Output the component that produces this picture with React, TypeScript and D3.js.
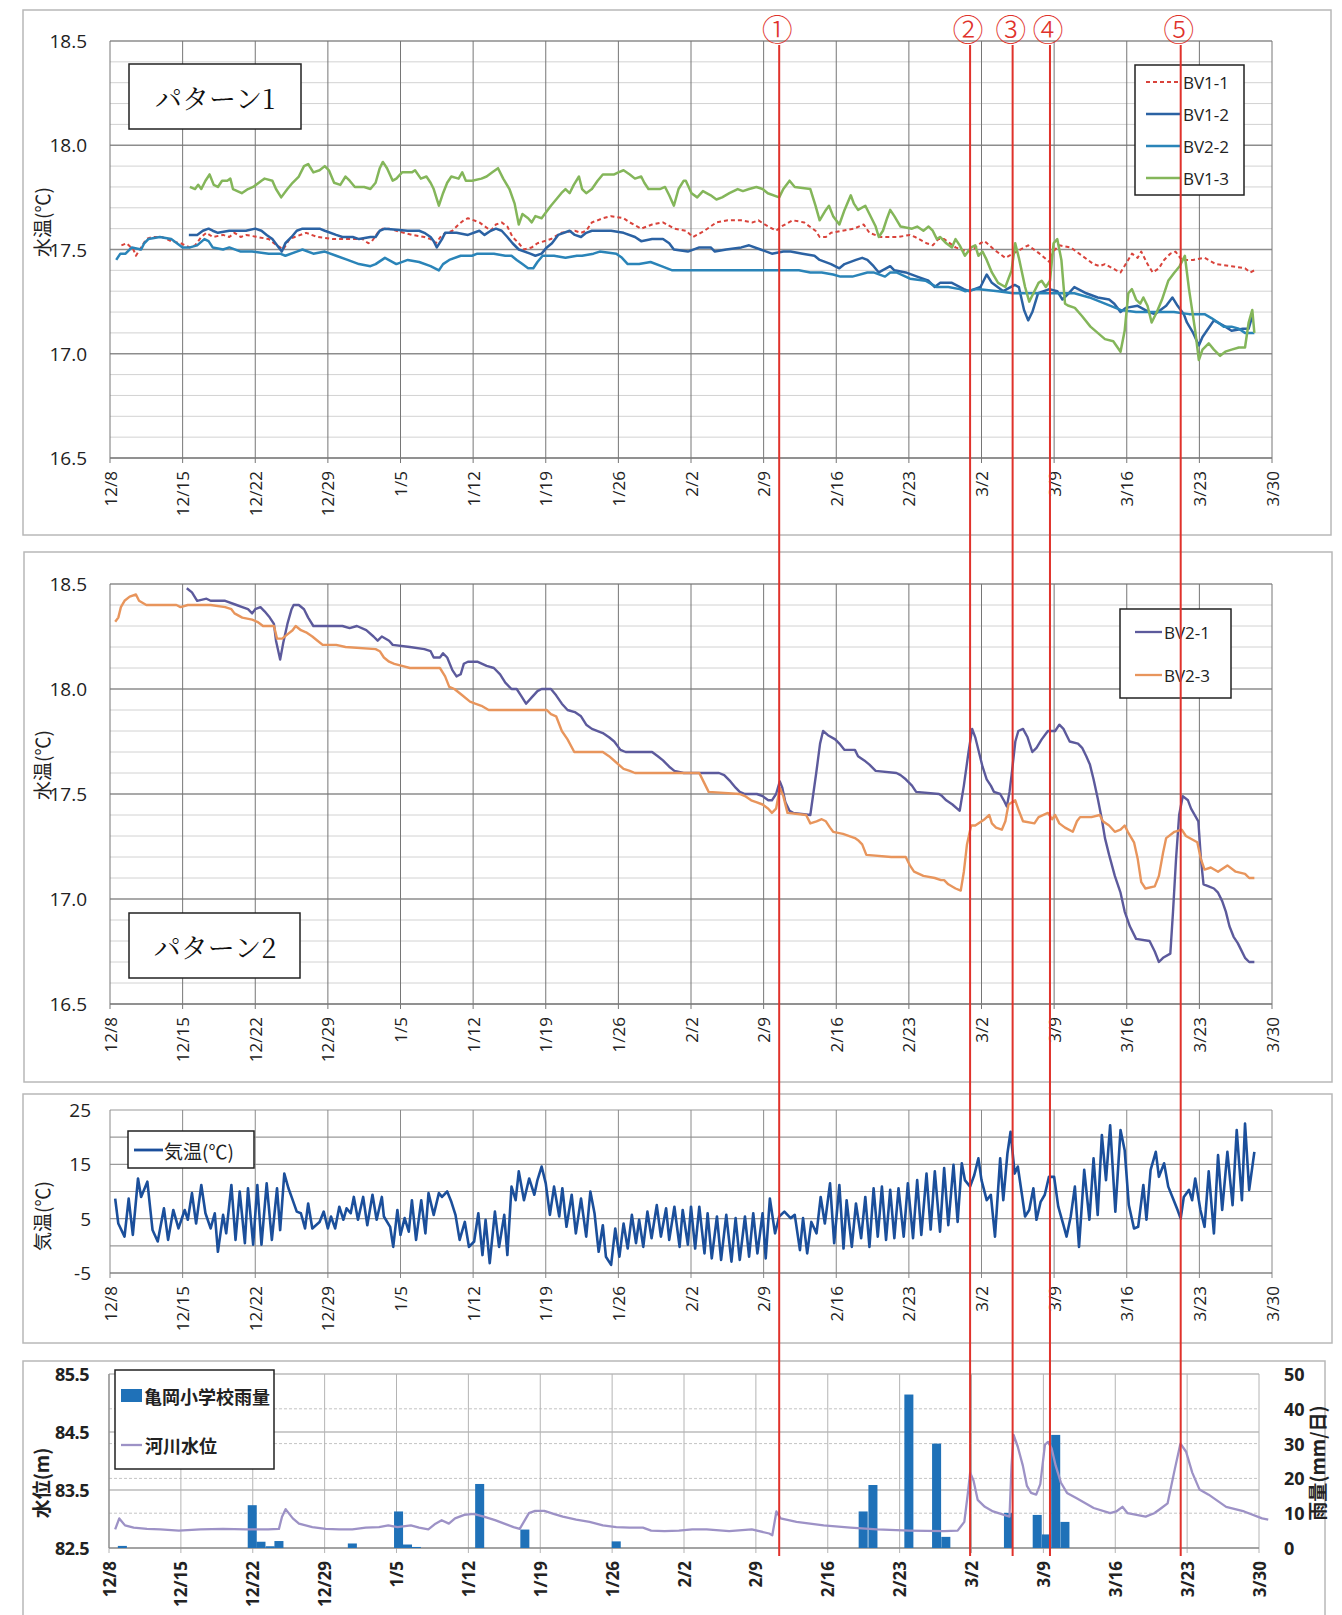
import React from "react";
import * as d3 from "d3";

type Pt = [number, number];

// x values are days counted from 12/8
const weekLabels = ["12/8", "12/15", "12/22", "12/29", "1/5", "1/12", "1/19", "1/26", "2/2", "2/9", "2/16", "2/23", "3/2", "3/9", "3/16", "3/23", "3/30"];
const weekDays = weekLabels.map((_, i) => i * 7);

const eventDays = [64.5, 82.9, 87.0, 90.6, 103.2];
const eventMarks = ["①", "②", "③", "④", "⑤"];

const p1Names = ["BV1-1", "BV1-2", "BV2-2", "BV1-3"];
const p2Names = ["BV2-1", "BV2-3"];

const bv11: Pt[] = [[1.1,17.52],[1.6,17.53],[2.25,17.50],[2.5,17.47],[3.0,17.51],[3.5,17.55],[4.1,17.56],[5.0,17.56],[5.9,17.54],[6.8,17.53],[7.7,17.51],[8.2,17.52],[8.8,17.56],[9.3,17.58],[9.9,17.56],[10.9,17.57],[11.5,17.56],[12.0,17.58],[12.6,17.56],[13.1,17.57],[14.2,17.56],[15.3,17.55],[15.8,17.53],[16.4,17.51],[16.7,17.50],[17.3,17.55],[17.8,17.56],[18.9,17.58],[20.0,17.56],[21.5,17.55],[24.35,17.55],[24.9,17.53],[25.25,17.54],[25.8,17.58],[26.3,17.60],[26.9,17.60],[27.6,17.59],[29.1,17.57],[30.3,17.56],[30.9,17.55],[31.4,17.53],[32.0,17.57],[33.0,17.59],[33.6,17.62],[34.1,17.64],[34.5,17.65],[35.6,17.63],[36.7,17.59],[37.2,17.62],[37.75,17.63],[38.3,17.61],[38.8,17.56],[39.4,17.53],[39.9,17.50],[40.65,17.51],[41.2,17.53],[42.5,17.55],[43.5,17.58],[44.8,17.59],[45.4,17.58],[45.9,17.59],[46.45,17.63],[47.0,17.64],[47.5,17.65],[48.3,17.66],[49.5,17.65],[50.1,17.63],[51.2,17.60],[52.25,17.62],[53.3,17.63],[54.4,17.60],[55.5,17.59],[56.2,17.56],[57.3,17.59],[58.45,17.63],[59.55,17.64],[60.85,17.64],[61.95,17.63],[62.5,17.64],[63.1,17.62],[64.2,17.59],[64.7,17.61],[65.8,17.64],[66.9,17.63],[68.0,17.59],[68.4,17.56],[69.0,17.56],[69.5,17.58],[70.6,17.59],[71.7,17.60],[72.65,17.62],[73.2,17.58],[74.3,17.56],[76.0,17.56],[77.1,17.57],[77.6,17.56],[78.7,17.53],[79.3,17.52],[79.85,17.55],[80.4,17.55],[81.5,17.51],[82.6,17.49],[83.2,17.50],[83.9,17.53],[84.3,17.54],[85.2,17.50],[86.3,17.46],[87.4,17.49],[88.5,17.52],[89.6,17.48],[90.55,17.44],[90.9,17.49],[91.5,17.52],[92.6,17.51],[93.7,17.47],[94.8,17.43],[95.4,17.42],[95.9,17.43],[97.0,17.40],[97.4,17.39],[97.9,17.43],[98.5,17.48],[99.05,17.46],[99.4,17.49],[100.0,17.43],[100.5,17.39],[101.1,17.41],[101.6,17.45],[102.2,17.48],[102.7,17.49],[103.3,17.45],[104.4,17.45],[105.5,17.46],[106.6,17.43],[108.1,17.42],[109.4,17.41],[109.9,17.39],[110.3,17.40]];

const bv12: Pt[] = [[7.6,17.57],[8.4,17.57],[8.95,17.59],[9.5,17.60],[9.9,17.59],[10.4,17.58],[11.5,17.59],[12.0,17.59],[12.6,17.59],[13.1,17.59],[14.0,17.60],[14.6,17.59],[15.1,17.57],[15.65,17.55],[16.1,17.52],[16.56,17.49],[16.9,17.53],[17.5,17.56],[18.0,17.59],[18.55,17.60],[20.2,17.60],[20.7,17.59],[21.8,17.57],[22.4,17.56],[23.4,17.56],[24.0,17.55],[25.1,17.56],[25.6,17.56],[26.0,17.59],[26.5,17.60],[28.7,17.59],[29.8,17.59],[30.3,17.58],[30.9,17.56],[31.2,17.54],[31.5,17.51],[32.0,17.55],[32.3,17.58],[33.4,17.58],[34.5,17.57],[35.6,17.59],[36.1,17.57],[36.7,17.59],[37.2,17.60],[37.75,17.59],[38.3,17.56],[38.8,17.53],[39.4,17.50],[40.5,17.48],[41.0,17.47],[41.6,17.48],[42.1,17.51],[42.6,17.53],[43.2,17.57],[44.3,17.59],[44.8,17.57],[45.4,17.56],[45.9,17.58],[46.45,17.59],[48.3,17.59],[49.5,17.58],[50.6,17.56],[51.2,17.54],[52.25,17.55],[53.3,17.55],[53.9,17.53],[54.35,17.50],[55.7,17.49],[56.8,17.51],[57.3,17.51],[57.9,17.51],[58.3,17.49],[59.4,17.50],[60.85,17.51],[61.6,17.52],[62.7,17.50],[63.8,17.48],[64.9,17.49],[65.6,17.49],[66.75,17.48],[67.9,17.47],[68.4,17.45],[69.5,17.43],[70.3,17.41],[70.8,17.43],[71.9,17.45],[72.5,17.46],[73.0,17.45],[73.6,17.42],[74.1,17.39],[75.2,17.42],[75.6,17.40],[76.7,17.39],[77.8,17.37],[78.9,17.35],[79.5,17.32],[80.0,17.34],[81.15,17.34],[82.3,17.31],[82.8,17.30],[83.9,17.32],[84.5,17.38],[85.0,17.34],[86.1,17.30],[87.2,17.33],[87.6,17.32],[88.1,17.21],[88.5,17.16],[88.9,17.20],[89.45,17.29],[90.55,17.31],[91.3,17.30],[91.8,17.26],[92.4,17.29],[92.95,17.32],[94.1,17.29],[95.2,17.27],[96.3,17.26],[96.8,17.24],[97.4,17.20],[97.9,17.22],[99.05,17.23],[100.15,17.20],[100.7,17.19],[101.8,17.23],[102.4,17.27],[102.9,17.23],[103.5,17.19],[103.8,17.15],[104.4,17.10],[104.95,17.04],[105.3,17.08],[106.4,17.16],[107.5,17.13],[108.1,17.11],[109.2,17.12],[109.75,17.12],[110.1,17.18]];

const bv22: Pt[] = [[0.6,17.45],[1.0,17.48],[1.5,17.48],[2.1,17.51],[3.0,17.50],[3.3,17.53],[3.7,17.55],[4.8,17.56],[5.9,17.55],[7.0,17.51],[7.7,17.51],[8.4,17.52],[9.1,17.55],[9.5,17.54],[9.9,17.51],[10.9,17.50],[11.5,17.51],[12.6,17.49],[13.7,17.49],[15.3,17.48],[16.4,17.48],[16.9,17.47],[18.0,17.49],[18.55,17.50],[19.6,17.48],[20.7,17.49],[21.8,17.47],[22.9,17.45],[24.0,17.43],[25.1,17.42],[25.6,17.43],[26.5,17.46],[27.6,17.43],[28.7,17.45],[29.8,17.44],[30.9,17.42],[31.7,17.40],[32.1,17.43],[32.7,17.45],[33.8,17.47],[34.9,17.47],[35.4,17.48],[37.0,17.48],[38.1,17.47],[38.7,17.47],[39.2,17.45],[39.75,17.43],[40.3,17.41],[40.8,17.41],[41.2,17.44],[41.7,17.47],[42.8,17.47],[43.9,17.46],[45.0,17.47],[45.5,17.47],[46.6,17.48],[47.2,17.49],[48.8,17.48],[49.35,17.46],[49.9,17.43],[51.0,17.43],[52.1,17.44],[53.15,17.42],[54.2,17.40],[55.7,17.40],[57.2,17.40],[58.6,17.40],[60.1,17.40],[62.3,17.40],[64.2,17.40],[66.4,17.40],[67.5,17.39],[68.6,17.39],[69.7,17.38],[70.4,17.37],[71.55,17.37],[73.0,17.39],[73.6,17.39],[74.7,17.37],[75.2,17.39],[75.8,17.39],[77.1,17.36],[78.6,17.35],[79.7,17.32],[80.8,17.32],[81.9,17.31],[82.4,17.30],[83.55,17.31],[85.6,17.30],[87.05,17.29],[89.3,17.29],[90.7,17.29],[92.95,17.29],[94.4,17.27],[95.9,17.24],[97.4,17.21],[98.9,17.20],[102.55,17.20],[104.0,17.19],[105.5,17.19],[106.2,17.17],[106.8,17.15],[107.35,17.13],[108.1,17.13],[108.8,17.12],[109.4,17.10],[110.3,17.10]];

const bv13: Pt[] = [[7.7,17.80],[8.2,17.79],[8.5,17.81],[8.8,17.79],[9.2,17.83],[9.6,17.86],[10.0,17.81],[10.4,17.80],[10.8,17.83],[11.3,17.83],[11.6,17.84],[11.85,17.79],[12.7,17.77],[13.3,17.79],[13.8,17.80],[14.6,17.83],[14.9,17.84],[15.65,17.83],[16.0,17.79],[16.5,17.75],[17.1,17.79],[17.6,17.82],[18.2,17.85],[18.7,17.90],[19.1,17.91],[19.6,17.87],[20.2,17.88],[20.7,17.90],[21.1,17.88],[21.6,17.82],[22.2,17.81],[22.7,17.85],[23.1,17.83],[23.6,17.80],[24.5,17.80],[25.1,17.79],[25.6,17.82],[26.0,17.89],[26.3,17.92],[26.7,17.89],[27.25,17.83],[27.6,17.84],[28.15,17.87],[29.1,17.87],[29.4,17.88],[29.96,17.84],[30.5,17.85],[30.9,17.82],[31.2,17.79],[31.7,17.71],[32.1,17.77],[32.5,17.82],[32.9,17.85],[33.6,17.84],[33.95,17.87],[34.3,17.83],[34.9,17.83],[35.8,17.84],[36.3,17.85],[36.85,17.87],[37.4,17.89],[37.9,17.84],[38.5,17.79],[39.0,17.72],[39.4,17.62],[39.75,17.67],[40.3,17.65],[40.65,17.63],[41.0,17.66],[41.6,17.65],[41.9,17.67],[42.5,17.71],[43.0,17.74],[43.5,17.77],[43.9,17.79],[44.3,17.77],[44.7,17.81],[45.2,17.85],[45.5,17.79],[45.9,17.77],[46.45,17.79],[47.0,17.83],[47.5,17.86],[48.6,17.86],[49.0,17.87],[49.5,17.88],[50.1,17.86],[50.6,17.84],[51.2,17.85],[51.5,17.82],[51.9,17.79],[53.0,17.79],[53.5,17.80],[53.9,17.76],[54.35,17.71],[54.8,17.79],[55.3,17.83],[55.5,17.83],[56.05,17.77],[56.6,17.75],[57.15,17.78],[57.9,17.76],[58.45,17.74],[59.0,17.75],[59.7,17.77],[60.5,17.79],[61.0,17.78],[61.6,17.79],[62.3,17.80],[62.9,17.79],[63.4,17.77],[64.5,17.75],[64.9,17.79],[65.5,17.83],[66.0,17.80],[67.5,17.79],[68.0,17.71],[68.4,17.64],[69.0,17.69],[69.3,17.71],[69.7,17.66],[70.3,17.62],[70.8,17.69],[71.4,17.76],[71.7,17.72],[72.1,17.69],[72.8,17.71],[73.2,17.67],[73.8,17.61],[74.1,17.56],[74.5,17.59],[74.9,17.65],[75.2,17.69],[75.6,17.66],[76.2,17.61],[77.3,17.60],[77.8,17.61],[78.4,17.59],[78.9,17.61],[79.3,17.59],[79.7,17.55],[80.0,17.56],[80.6,17.53],[81.15,17.51],[81.5,17.55],[81.9,17.52],[82.4,17.47],[83.0,17.51],[83.4,17.52],[83.7,17.47],[84.1,17.49],[84.5,17.45],[85.0,17.39],[85.6,17.34],[86.3,17.32],[86.9,17.40],[87.25,17.53],[87.6,17.46],[88.2,17.32],[88.6,17.25],[89.1,17.30],[89.5,17.34],[89.8,17.35],[90.2,17.32],[90.6,17.35],[90.95,17.53],[91.3,17.55],[91.7,17.45],[92.05,17.24],[92.4,17.23],[93.0,17.22],[93.7,17.18],[94.5,17.13],[95.2,17.10],[95.9,17.07],[96.7,17.06],[97.4,17.01],[97.8,17.11],[98.15,17.29],[98.5,17.31],[98.9,17.26],[99.3,17.24],[99.6,17.27],[100.0,17.23],[100.4,17.15],[100.9,17.20],[101.4,17.26],[102.0,17.35],[102.6,17.39],[103.1,17.42],[103.6,17.47],[104.0,17.31],[104.6,17.11],[104.95,16.97],[105.3,17.02],[105.9,17.05],[106.4,17.02],[107.0,16.99],[107.5,17.01],[108.1,17.02],[108.8,17.03],[109.4,17.03],[109.75,17.15],[110.1,17.21],[110.3,17.10]];

const bv21: Pt[] = [[7.4,18.48],[7.9,18.46],[8.4,18.42],[9.3,18.43],[9.7,18.42],[11.1,18.42],[12.2,18.40],[12.75,18.39],[13.3,18.38],[13.7,18.36],[14.0,18.38],[14.5,18.39],[14.9,18.37],[15.4,18.34],[15.8,18.31],[16.0,18.23],[16.4,18.14],[16.7,18.22],[17.1,18.31],[17.5,18.38],[17.7,18.40],[18.2,18.40],[18.7,18.38],[19.1,18.34],[19.6,18.30],[22.4,18.30],[23.1,18.29],[23.8,18.30],[24.7,18.28],[25.4,18.25],[25.8,18.23],[26.2,18.25],[26.9,18.23],[27.25,18.21],[28.9,18.20],[30.3,18.19],[30.9,18.18],[31.2,18.15],[31.8,18.15],[32.1,18.17],[32.5,18.15],[33.0,18.09],[33.4,18.06],[33.8,18.07],[34.1,18.12],[34.5,18.13],[35.4,18.13],[36.3,18.11],[37.0,18.10],[37.6,18.07],[38.1,18.03],[38.7,18.00],[39.2,18.00],[39.6,17.97],[40.1,17.93],[40.65,17.96],[41.2,17.99],[41.6,18.00],[42.5,18.00],[43.0,17.97],[43.55,17.93],[44.1,17.90],[44.8,17.89],[45.4,17.87],[45.9,17.83],[46.45,17.81],[47.5,17.79],[48.1,17.77],[48.6,17.75],[49.2,17.71],[49.7,17.70],[52.25,17.70],[52.8,17.68],[53.3,17.66],[53.9,17.63],[54.4,17.61],[55.3,17.60],[58.7,17.60],[59.2,17.59],[59.8,17.56],[60.3,17.53],[60.7,17.51],[61.2,17.50],[62.35,17.50],[62.9,17.49],[63.45,17.47],[63.8,17.47],[64.2,17.50],[64.56,17.56],[64.8,17.53],[65.1,17.46],[65.5,17.42],[65.85,17.41],[67.5,17.40],[68.07,17.60],[68.44,17.74],[68.73,17.80],[69.2,17.78],[69.9,17.76],[70.3,17.74],[70.8,17.71],[71.8,17.71],[72.1,17.68],[72.7,17.66],[73.2,17.64],[73.8,17.61],[75.8,17.60],[76.2,17.59],[76.7,17.57],[77.3,17.54],[77.7,17.51],[79.9,17.50],[80.2,17.49],[80.6,17.47],[81.2,17.45],[81.9,17.42],[82.3,17.54],[82.75,17.70],[83.1,17.81],[83.4,17.77],[83.75,17.70],[84.1,17.63],[84.5,17.57],[84.9,17.54],[85.2,17.51],[85.8,17.50],[86.15,17.47],[86.44,17.44],[86.7,17.51],[86.9,17.59],[87.26,17.75],[87.55,17.80],[88.0,17.81],[88.44,17.77],[88.9,17.70],[89.3,17.72],[89.8,17.76],[90.4,17.80],[91.1,17.80],[91.5,17.83],[91.9,17.81],[92.2,17.78],[92.5,17.75],[93.3,17.74],[93.7,17.72],[94.1,17.68],[94.45,17.64],[94.8,17.57],[95.2,17.48],[95.6,17.38],[95.9,17.29],[96.3,17.21],[96.85,17.11],[97.4,17.03],[97.8,16.94],[98.3,16.87],[98.9,16.81],[100.2,16.80],[100.7,16.75],[101.1,16.70],[101.5,16.72],[102.2,16.74],[102.46,16.94],[102.75,17.19],[103.05,17.40],[103.4,17.49],[103.9,17.47],[104.2,17.43],[104.9,17.37],[105.15,17.19],[105.4,17.07],[105.9,17.06],[106.4,17.05],[106.8,17.03],[107.2,16.99],[107.55,16.94],[107.9,16.87],[108.3,16.82],[108.7,16.79],[109.0,16.76],[109.4,16.72],[109.8,16.70],[110.3,16.70]];

const bv23: Pt[] = [[0.5,18.32],[0.8,18.34],[1.05,18.39],[1.4,18.42],[1.9,18.44],[2.5,18.45],[2.8,18.42],[3.5,18.40],[6.4,18.40],[6.8,18.39],[7.5,18.40],[9.7,18.40],[11.1,18.39],[11.7,18.38],[12.0,18.36],[12.75,18.34],[13.7,18.33],[14.2,18.32],[14.75,18.30],[15.8,18.30],[16.1,18.24],[16.6,18.24],[17.1,18.26],[17.6,18.28],[17.9,18.30],[18.4,18.28],[18.9,18.27],[19.5,18.25],[20.0,18.23],[20.5,18.21],[21.8,18.21],[22.7,18.20],[25.6,18.19],[26.0,18.18],[26.4,18.15],[26.9,18.13],[27.4,18.12],[28.15,18.11],[28.9,18.10],[31.8,18.10],[32.3,18.06],[32.7,18.01],[33.2,18.00],[33.95,17.97],[34.7,17.94],[35.2,17.93],[35.8,17.92],[36.5,17.90],[42.1,17.90],[42.5,17.88],[43.0,17.87],[43.55,17.80],[44.1,17.76],[44.75,17.70],[47.5,17.70],[48.1,17.68],[48.8,17.65],[49.5,17.62],[50.1,17.61],[50.6,17.60],[56.8,17.60],[57.2,17.56],[57.7,17.51],[60.7,17.50],[61.2,17.49],[61.8,17.47],[62.35,17.46],[62.9,17.45],[63.45,17.43],[63.8,17.41],[64.2,17.43],[64.56,17.53],[64.9,17.49],[65.3,17.41],[67.1,17.40],[67.5,17.36],[68.1,17.37],[68.6,17.38],[69.0,17.37],[69.4,17.34],[69.7,17.32],[70.65,17.31],[71.8,17.29],[72.1,17.28],[72.5,17.26],[72.9,17.21],[75.3,17.20],[76.7,17.20],[77.1,17.16],[77.5,17.13],[78.4,17.11],[79.5,17.10],[80.1,17.09],[80.4,17.09],[80.8,17.07],[81.5,17.05],[82.0,17.04],[82.3,17.13],[82.6,17.26],[83.0,17.35],[83.4,17.35],[84.3,17.38],[84.75,17.40],[85.0,17.36],[85.4,17.34],[85.96,17.33],[86.3,17.37],[86.6,17.45],[87.25,17.47],[87.6,17.42],[88.0,17.37],[89.1,17.36],[89.5,17.39],[90.4,17.41],[90.8,17.38],[91.1,17.40],[91.5,17.36],[92.05,17.34],[92.8,17.32],[93.2,17.37],[93.5,17.39],[94.6,17.39],[95.4,17.40],[95.7,17.37],[96.3,17.35],[96.85,17.32],[97.4,17.33],[97.8,17.35],[98.1,17.32],[98.7,17.27],[99.06,17.19],[99.4,17.08],[99.8,17.05],[100.7,17.06],[101.1,17.11],[101.5,17.22],[101.8,17.29],[102.6,17.32],[103.3,17.33],[103.7,17.30],[104.8,17.27],[105.15,17.19],[105.5,17.14],[106.1,17.15],[106.8,17.13],[107.7,17.16],[108.5,17.13],[109.4,17.12],[109.8,17.10],[110.3,17.10]];

const airTemp: Pt[] = [[0.5,8.7],[0.8,4.1],[1.4,1.7],[1.8,8.7],[2.2,2.0],[2.7,12.4],[3.0,9.0],[3.6,11.8],[4.1,2.9],[4.6,0.8],[5.2,6.9],[5.6,1.1],[6.1,6.6],[6.6,3.2],[7.2,6.6],[7.5,4.8],[7.9,9.7],[8.3,4.1],[8.8,11.2],[9.2,6.0],[9.7,3.2],[10.1,6.0],[10.4,-1.1],[10.9,5.7],[11.2,2.3],[11.7,11.2],[12.1,1.1],[12.5,10.0],[13.0,0.5],[13.3,10.6],[13.8,0.2],[14.2,11.2],[14.6,0.2],[15.1,11.5],[15.6,1.1],[16.1,10.6],[16.4,2.9],[16.8,13.3],[17.2,10.6],[17.5,9.0],[18.0,6.3],[18.4,6.0],[18.8,3.2],[19.1,7.8],[19.5,3.2],[20.2,4.4],[20.6,6.3],[21.0,3.2],[21.3,5.4],[21.7,3.2],[22.1,7.2],[22.5,4.8],[22.8,6.9],[23.2,6.0],[23.5,9.0],[23.9,4.8],[24.4,9.0],[24.8,3.8],[25.3,9.4],[25.7,4.8],[26.2,9.0],[26.4,5.4],[27.0,3.5],[27.3,-0.2],[27.7,6.6],[28.0,2.0],[28.4,5.1],[28.8,2.6],[29.1,8.4],[29.5,1.1],[30.0,8.4],[30.4,2.3],[30.7,9.7],[31.2,5.7],[31.7,9.7],[32.0,9.0],[32.5,10.0],[32.9,8.1],[33.3,5.7],[33.7,1.1],[34.2,4.4],[34.6,-0.2],[35.1,0.8],[35.5,6.0],[35.9,-1.7],[36.2,4.8],[36.6,-3.2],[37.1,6.3],[37.5,-0.2],[38.0,5.7],[38.3,-1.7],[38.7,10.9],[39.1,8.4],[39.4,13.7],[39.9,8.4],[40.4,12.4],[40.9,9.4],[41.2,12.1],[41.6,14.6],[42.0,11.5],[42.4,5.7],[42.8,10.9],[43.3,5.4],[43.6,10.6],[44.0,3.5],[44.5,9.4],[44.9,2.3],[45.4,8.7],[45.9,1.7],[46.3,10.0],[46.7,6.0],[47.1,-1.1],[47.5,3.8],[47.8,-2.0],[48.3,-3.5],[48.7,3.2],[49.1,-2.0],[49.5,4.1],[49.9,-0.5],[50.3,5.7],[50.7,0.5],[51.0,4.8],[51.4,-0.2],[51.8,6.3],[52.2,1.4],[52.7,7.5],[53.1,1.7],[53.6,6.9],[53.9,1.1],[54.4,7.2],[54.9,-0.2],[55.2,6.6],[55.7,0.2],[56.0,7.2],[56.4,-0.5],[56.8,7.2],[57.3,-1.4],[57.6,6.0],[58.0,-2.3],[58.5,5.4],[58.9,-2.6],[59.4,5.7],[59.9,-2.9],[60.3,5.1],[60.7,-2.6],[61.2,5.4],[61.6,-2.0],[62.0,6.0],[62.4,-1.4],[62.9,6.0],[63.2,-2.3],[63.6,8.7],[64.1,2.3],[64.5,5.4],[65.0,6.3],[65.6,5.1],[66.0,5.7],[66.5,-0.8],[66.8,5.1],[67.2,-1.4],[67.6,4.4],[68.1,2.3],[68.5,9.0],[68.9,4.1],[69.4,11.5],[69.8,0.5],[70.3,11.2],[70.7,-0.5],[71.0,8.4],[71.5,-0.2],[71.9,7.8],[72.4,1.4],[72.8,9.0],[73.2,-0.2],[73.6,10.6],[74.0,1.7],[74.4,10.9],[74.8,1.1],[75.2,10.3],[75.6,1.4],[76.0,10.6],[76.5,1.7],[76.9,11.5],[77.4,1.4],[77.8,12.1],[78.2,2.0],[78.7,13.3],[79.1,3.0],[79.5,13.7],[80.0,2.6],[80.4,14.3],[80.8,3.8],[81.3,14.9],[81.7,4.4],[82.1,15.2],[82.4,12.1],[82.9,10.9],[83.3,13.0],[83.7,16.1],[84.0,12.1],[84.5,8.4],[84.9,9.4],[85.3,1.7],[85.8,16.1],[86.1,8.4],[86.5,17.0],[86.8,21.0],[87.2,13.3],[87.5,14.6],[87.9,9.4],[88.2,5.4],[88.6,6.6],[89.0,10.6],[89.3,4.8],[89.7,8.1],[90.1,9.4],[90.5,12.7],[91.0,12.7],[91.4,7.2],[91.9,3.8],[92.2,1.7],[92.6,5.4],[93.0,10.9],[93.4,-0.2],[93.9,14.0],[94.4,4.8],[94.8,16.1],[95.2,5.7],[95.6,20.4],[96.0,12.1],[96.4,22.2],[96.9,6.3],[97.4,21.3],[97.8,17.6],[98.2,7.5],[98.7,3.2],[99.1,3.5],[99.6,11.2],[99.9,4.8],[100.3,14.0],[100.8,17.3],[101.1,12.7],[101.6,15.2],[102.0,10.9],[102.4,9.0],[102.9,6.6],[103.2,5.0],[103.5,9.0],[104.0,10.3],[104.3,8.4],[104.6,12.4],[105.1,6.6],[105.5,3.5],[105.9,13.7],[106.4,2.3],[106.8,16.7],[107.2,6.6],[107.7,17.3],[108.2,7.5],[108.6,21.3],[109.1,8.4],[109.4,22.5],[109.8,10.3],[110.3,17.3]];

const rainDays = [1.3, 13.95, 14.8, 15.7, 16.55, 23.7, 28.2, 29.07, 29.94, 36.1, 40.5, 49.4, 73.45, 74.4, 77.9, 80.6, 81.5, 87.6, 90.4, 91.3, 92.2, 93.1];
const rainMm = [0.6, 12.3, 1.8, 0.5, 2.0, 1.3, 10.5, 1.0, 0.3, 18.4, 5.3, 1.9, 10.5, 18.1, 44.1, 30.0, 3.2, 10.1, 9.5, 3.9, 32.5, 7.5];

const riverLevel: Pt[] = [[0.6,82.82],[1.0,83.01],[1.56,82.89],[2.4,82.85],[3.7,82.83],[5.0,82.82],[6.8,82.80],[8.9,82.82],[11.1,82.83],[13.3,82.82],[15.5,82.82],[16.55,82.83],[16.85,83.04],[17.2,83.17],[17.9,83.01],[18.5,82.92],[19.8,82.86],[21.1,82.83],[22.4,82.82],[23.7,82.82],[25.0,82.85],[26.3,82.86],[27.2,82.89],[28.1,82.86],[29.4,82.89],[30.2,82.85],[31.1,82.82],[31.8,82.92],[32.4,82.98],[33.1,82.92],[33.7,83.01],[34.6,83.07],[35.5,83.09],[36.5,83.04],[37.6,82.98],[38.5,82.92],[39.4,82.86],[40.0,82.83],[40.5,82.98],[40.9,83.10],[41.5,83.14],[42.4,83.14],[43.3,83.09],[44.2,83.04],[45.5,82.99],[46.8,82.95],[48.1,82.89],[49.4,82.86],[50.7,82.85],[52.0,82.85],[52.8,82.80],[54.1,82.79],[55.5,82.80],[56.8,82.82],[58.2,82.82],[60.4,82.79],[62.6,82.82],[64.3,82.75],[64.6,82.72],[65.0,83.13],[65.4,83.01],[66.96,82.95],[69.6,82.89],[72.2,82.85],[74.8,82.82],[77.9,82.80],[81.3,82.79],[82.65,82.80],[83.3,82.95],[83.65,83.45],[83.87,83.80],[84.2,83.66],[84.6,83.33],[85.3,83.21],[86.1,83.13],[87.7,83.04],[87.9,83.92],[88.1,84.45],[88.5,84.25],[89.0,83.92],[89.4,83.57],[89.8,83.45],[90.3,83.42],[90.7,83.60],[91.15,84.28],[91.45,84.33],[91.8,84.22],[92.2,83.92],[92.7,83.63],[93.3,83.45],[94.2,83.36],[95.9,83.19],[97.5,83.10],[98.1,83.13],[98.7,83.21],[99.2,83.10],[100.96,83.04],[101.8,83.10],[102.5,83.19],[103.1,83.27],[103.8,83.86],[104.35,84.30],[104.9,84.16],[105.5,83.80],[106.2,83.51],[107.1,83.42],[108.8,83.21],[110.55,83.13],[112.3,83.01],[112.9,82.99]];

const SANS = "'Open Sans', 'Noto Sans', sans-serif";
const CJK = "'Noto Sans CJK JP', 'Noto Sans', sans-serif";
const SERIF_JP = "'Noto Serif CJK JP', 'Noto Sans CJK JP', serif";
const RED = "#e0322b";

const xTop = d3.scaleLinear().domain([0, 112]).range([110, 1272]);
const xBot = d3.scaleLinear().domain([0, 112]).range([109, 1259]);
const y1 = d3.scaleLinear().domain([16.5, 18.5]).range([458, 41]);
const y2 = d3.scaleLinear().domain([16.5, 18.5]).range([1004, 584]);
const y3 = d3.scaleLinear().domain([-5, 25]).range([1273, 1110]);
const y4 = d3.scaleLinear().domain([82.5, 85.5]).range([1548, 1374]);
const y4r = d3.scaleLinear().domain([0, 50]).range([1548, 1374]);

const tenths = d3.range(0, 21).map((i) => 16.5 + i * 0.1);

function WeekAxis({ x, top, bottom, gridColor, bold }: { x: d3.ScaleLinear<number, number>; top: number; bottom: number; gridColor: string; bold?: boolean }) {
  return (
    <g>
      {weekDays.map((d) => (
        <line key={"g" + d} x1={x(d)} x2={x(d)} y1={top} y2={bottom + 5} stroke={gridColor} strokeWidth={1} />
      ))}
      <line x1={x(0)} x2={x(112)} y1={bottom} y2={bottom} stroke="#7a7a7a" strokeWidth={1.2} />
      {weekLabels.map((lab, i) => (
        <text key={lab} transform={`translate(${x(weekDays[i])},${bottom + 13}) rotate(-90)`} textAnchor="end" dominantBaseline="central" fontFamily={SANS} fontSize={17} fontWeight={bold ? 700 : 400} fill="#222">
          {lab}
        </text>
      ))}
    </g>
  );
}

function TempGrid({ y }: { y: d3.ScaleLinear<number, number> }) {
  return (
    <g>
      {tenths.map((v, i) => (
        <line key={i} x1={xTop(0)} x2={xTop(112)} y1={y(v)} y2={y(v)} stroke={i % 5 === 0 ? "#8d8d8d" : "#d2d2d2"} strokeWidth={i % 5 === 0 ? 1.3 : 1} />
      ))}
      {tenths.filter((_, i) => i % 5 === 0).map((v) => (
        <text key={v} x={87} y={y(v)} textAnchor="end" dominantBaseline="central" fontFamily={SANS} fontSize={19} fill="#222">
          {v.toFixed(1)}
        </text>
      ))}
    </g>
  );
}

function VTitle({ x, y, text, bold }: { x: number; y: number; text: string; bold?: boolean }) {
  return (
    <text transform={`translate(${x},${y}) rotate(-90)`} textAnchor="middle" dominantBaseline="central" fontFamily={CJK} fontSize={19} fontWeight={bold ? 700 : 400} fill="#222">
      {text}
    </text>
  );
}

export default function App() {
  const line1 = d3.line<Pt>().x((d) => xTop(d[0])).y((d) => y1(d[1]));
  const line2 = d3.line<Pt>().x((d) => xTop(d[0])).y((d) => y2(d[1]));
  const line3 = d3.line<Pt>().x((d) => xTop(d[0])).y((d) => y3(d[1]));
  const line4 = d3.line<Pt>().x((d) => xBot(d[0])).y((d) => y4(d[1]));

  const p1Data = [bv11, bv12, bv22, bv13];
  const p1Colors = ["#d9433b", "#2b62a3", "#2a84b8", "#84b65a"];
  const p2Data = [bv21, bv23];
  const p2Colors = ["#5c5a9c", "#e8955c"];
  const barW = xBot(0.88) - xBot(0);

  return (
    <svg width={1342} height={1615} style={{ position: "absolute", left: 0, top: 0, background: "#fff" }}>
      {/* panel frames */}
      <rect x={23} y={10} width={1308} height={525} fill="#fff" stroke="#b8b8b8" strokeWidth={1.5} />
      <rect x={24} y={552} width={1308} height={530} fill="#fff" stroke="#b8b8b8" strokeWidth={1.5} />
      <rect x={23} y={1094} width={1309} height={249} fill="#fff" stroke="#b8b8b8" strokeWidth={1.5} />
      <rect x={23} y={1361} width={1302} height={280} fill="#fff" stroke="#b8b8b8" strokeWidth={1.5} />

      {/* ---------- panel 1 ---------- */}
      <TempGrid y={y1} />
      <WeekAxis x={xTop} top={41} bottom={458} gridColor="#767676" />
      <VTitle x={41} y={222} text="水温(℃)" />
      <rect x={129} y={64} width={172} height={65} fill="#fff" stroke="#222" strokeWidth={1.5} />
      <text x={215} y={97} textAnchor="middle" dominantBaseline="central" fontFamily={SERIF_JP} fontSize={27} fill="#111">パターン1</text>
      {p1Data.map((s, i) => (
        <path key={i} d={line1(s) ?? ""} fill="none" stroke={p1Colors[i]} strokeWidth={i === 0 ? 2 : 2.5} strokeDasharray={i === 0 ? "4,3" : undefined} strokeLinejoin="round" />
      ))}
      <rect x={1135} y={65} width={109} height={130} fill="#fff" stroke="#222" strokeWidth={1.5} />
      {p1Names.map((n, i) => (
        <g key={n}>
          <line x1={1146} x2={1180} y1={82 + i * 32} y2={82 + i * 32} stroke={p1Colors[i]} strokeWidth={i === 0 ? 2 : 2.6} strokeDasharray={i === 0 ? "4,3" : undefined} />
          <text x={1183} y={82 + i * 32} dominantBaseline="central" fontFamily={SANS} fontSize={17} fill="#222">{n}</text>
        </g>
      ))}

      {/* ---------- panel 2 ---------- */}
      <TempGrid y={y2} />
      <WeekAxis x={xTop} top={584} bottom={1004} gridColor="#767676" />
      <VTitle x={41} y={765} text="水温(℃)" />
      {p2Data.map((s, i) => (
        <path key={i} d={line2(s) ?? ""} fill="none" stroke={p2Colors[i]} strokeWidth={2.4} strokeLinejoin="round" />
      ))}
      <rect x={129} y={913} width={171} height={65} fill="#fff" stroke="#222" strokeWidth={1.5} />
      <text x={215} y={946} textAnchor="middle" dominantBaseline="central" fontFamily={SERIF_JP} fontSize={27} fill="#111">パターン2</text>
      <rect x={1120} y={609} width={111} height={89} fill="#fff" stroke="#222" strokeWidth={1.5} />
      {p2Names.map((n, i) => (
        <g key={n}>
          <line x1={1135} x2={1162} y1={632 + i * 43} y2={632 + i * 43} stroke={p2Colors[i]} strokeWidth={2.3} />
          <text x={1164} y={632 + i * 43} dominantBaseline="central" fontFamily={SANS} fontSize={17} fill="#222">{n}</text>
        </g>
      ))}

      {/* ---------- panel 3 ---------- */}
      {d3.range(-5, 26, 5).map((v) => (
        <line key={v} x1={xTop(0)} x2={xTop(112)} y1={y3(v)} y2={y3(v)} stroke="#9a9a9a" strokeWidth={1.2} />
      ))}
      {[25, 15, 5, -5].map((v) => (
        <text key={v} x={91} y={y3(v)} textAnchor="end" dominantBaseline="central" fontFamily={SANS} fontSize={19} fill="#222">{v}</text>
      ))}
      <WeekAxis x={xTop} top={1110} bottom={1273} gridColor="#8a8a8a" />
      <VTitle x={41} y={1216} text="気温(℃)" />
      <path d={line3(airTemp) ?? ""} fill="none" stroke="#1b4f9b" strokeWidth={2.6} strokeLinejoin="round" />
      <rect x={128} y={1131} width={126} height={37} fill="#fff" stroke="#222" strokeWidth={1.5} />
      <line x1={134} x2={163} y1={1150} y2={1150} stroke="#1b4f9b" strokeWidth={2.8} />
      <text x={164} y={1150} dominantBaseline="central" fontFamily={CJK} fontSize={19} fill="#222">気温(℃)</text>

      {/* ---------- panel 4 ---------- */}
      {[10, 20, 30, 40].map((v) => (
        <line key={v} x1={xBot(0)} x2={xBot(112)} y1={y4r(v)} y2={y4r(v)} stroke="#c4c4c4" strokeWidth={1} strokeDasharray="3,2" />
      ))}
      {[82.5, 83.5, 84.5, 85.5].map((v) => (
        <line key={v} x1={xBot(0)} x2={xBot(112)} y1={y4(v)} y2={y4(v)} stroke="#9a9a9a" strokeWidth={1.2} />
      ))}
      {[82.5, 83.5, 84.5, 85.5].map((v) => (
        <text key={v} x={89} y={y4(v)} textAnchor="end" dominantBaseline="central" fontFamily={SANS} fontSize={18} fontWeight={700} fill="#222" letterSpacing={-0.5}>{v.toFixed(1)}</text>
      ))}
      {d3.range(0, 51, 10).map((v) => (
        <text key={v} x={1284} y={y4r(v)} dominantBaseline="central" fontFamily={SANS} fontSize={18} fontWeight={700} fill="#222">{v}</text>
      ))}
      <WeekAxis x={xBot} top={1374} bottom={1548} gridColor="#b4b4b4" bold />
      <line x1={xBot(0)} x2={xBot(0)} y1={1374} y2={1548} stroke="#888" strokeWidth={1.2} />
      <VTitle x={40} y={1483} text="水位(m)" bold />
      <VTitle x={1316} y={1463} text="雨量(mm/日)" bold />
      {rainDays.map((d, i) => (
        <rect key={i} x={xBot(d) - barW / 2} y={y4r(rainMm[i])} width={barW} height={y4r(0) - y4r(rainMm[i])} fill="#1f71b8" />
      ))}
      <path d={line4(riverLevel) ?? ""} fill="none" stroke="#9d92c6" strokeWidth={2.3} strokeLinejoin="round" />
      <rect x={115} y={1370} width={159} height={99} fill="#fff" stroke="#222" strokeWidth={1.5} />
      <rect x={121} y={1389} width={21} height={13} fill="#1f71b8" />
      <text x={144} y={1396} dominantBaseline="central" fontFamily={CJK} fontSize={18} fontWeight={700} fill="#222">亀岡小学校雨量</text>
      <line x1={121} x2={142} y1={1445} y2={1445} stroke="#9d92c6" strokeWidth={2.3} />
      <text x={145} y={1445} dominantBaseline="central" fontFamily={CJK} fontSize={18} fontWeight={700} fill="#222">河川水位</text>

      {/* ---------- event markers ---------- */}
      {eventDays.map((d, i) => (
        <g key={i}>
          <line x1={xTop(d)} x2={xTop(d)} y1={45} y2={1556} stroke={RED} strokeWidth={2} />
          <text x={xTop(d) - 2} y={27} textAnchor="middle" dominantBaseline="central" fontFamily={CJK} fontSize={31} fontWeight={300} fill={RED}>{eventMarks[i]}</text>
        </g>
      ))}
    </svg>
  );
}
